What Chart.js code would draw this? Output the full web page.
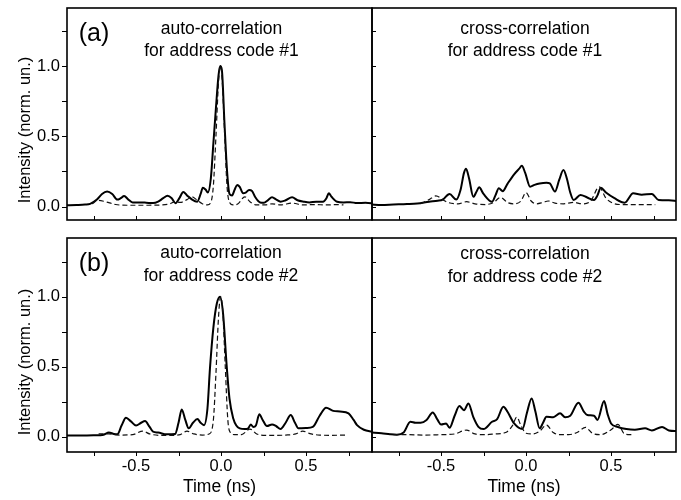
<!DOCTYPE html>
<html><head><meta charset="utf-8">
<script src="https://cdn.jsdelivr.net/npm/chart.js@4"></script>
<style>
html,body{margin:0;padding:0;background:#fff}
#wrap{position:relative;width:681px;height:500px;overflow:hidden}
canvas{position:absolute;left:0;top:0}
</style>
</head><body>
<div id="wrap">
<canvas id="cTL" width="681" height="500"></canvas>
<canvas id="cTR" width="681" height="500"></canvas>
<canvas id="cBL" width="681" height="500"></canvas>
<canvas id="cBR" width="681" height="500"></canvas>
</div>
<script>
// ---------- data (time in ns, intensity normalized) ----------
// (a) auto-correlation, measured (solid)
const autoA_t = [-0.91,-0.85,-0.80,-0.77,-0.73,-0.70,-0.67,-0.64,-0.61,-0.59,-0.57,-0.545,-0.52,-0.48,-0.44,-0.40,-0.37,-0.34,-0.315,-0.29,-0.268,-0.245,-0.222,-0.20,-0.17,-0.14,-0.12,-0.107,-0.09,-0.078,-0.06,-0.045,-0.03,-0.015,-0.005,0.005,0.02,0.035,0.05,0.065,0.08,0.095,0.11,0.13,0.145,0.165,0.183,0.20,0.23,0.252,0.275,0.30,0.325,0.35,0.38,0.418,0.45,0.487,0.52,0.56,0.60,0.62,0.634,0.65,0.683,0.72,0.76,0.80,0.85,0.90];
const autoA_meas = [0.01,0.012,0.015,0.02,0.05,0.09,0.107,0.09,0.05,0.06,0.076,0.05,0.03,0.03,0.028,0.025,0.035,0.06,0.078,0.06,0.024,0.06,0.104,0.08,0.05,0.035,0.09,0.135,0.12,0.10,0.20,0.45,0.70,0.93,1.0,0.97,0.60,0.26,0.09,0.08,0.12,0.154,0.14,0.095,0.10,0.118,0.11,0.07,0.03,0.028,0.045,0.066,0.05,0.035,0.045,0.066,0.045,0.035,0.03,0.035,0.035,0.06,0.095,0.07,0.035,0.03,0.032,0.025,0.028,0.022];
// (a) auto-correlation, simulated (dashed)
const autoA_simT = [-0.76,-0.72,-0.68,-0.62,-0.55,-0.45,-0.35,-0.30,-0.27,-0.24,-0.20,-0.17,-0.14,-0.11,-0.08,-0.06,-0.045,-0.03,-0.015,-0.005,0.005,0.02,0.035,0.05,0.07,0.10,0.14,0.17,0.21,0.26,0.30,0.35,0.42,0.48,0.55,0.62,0.68,0.72];
const autoA_sim = [0.02,0.045,0.035,0.015,0.01,0.01,0.012,0.02,0.035,0.03,0.05,0.07,0.045,0.02,0.012,0.03,0.15,0.5,0.88,1.0,0.93,0.55,0.15,0.03,0.012,0.02,0.07,0.035,0.012,0.012,0.02,0.012,0.025,0.012,0.015,0.012,0.015,0.012];
// (a) cross-correlation, measured
const crossA_t = [-0.91,-0.85,-0.78,-0.70,-0.64,-0.57,-0.52,-0.49,-0.45,-0.41,-0.385,-0.365,-0.353,-0.335,-0.31,-0.29,-0.276,-0.25,-0.20,-0.18,-0.16,-0.137,-0.11,-0.07,-0.04,-0.025,-0.005,0.024,0.05,0.08,0.12,0.14,0.17,0.195,0.22,0.24,0.26,0.28,0.32,0.36,0.40,0.42,0.44,0.47,0.52,0.58,0.63,0.68,0.74,0.78,0.84,0.89];
const crossA_meas = [0.015,0.012,0.015,0.018,0.022,0.035,0.042,0.05,0.09,0.05,0.12,0.24,0.27,0.20,0.07,0.11,0.137,0.09,0.035,0.08,0.13,0.11,0.16,0.23,0.27,0.29,0.24,0.142,0.155,0.165,0.17,0.165,0.107,0.19,0.26,0.20,0.10,0.047,0.083,0.065,0.047,0.08,0.135,0.10,0.06,0.028,0.095,0.085,0.09,0.047,0.045,0.04];
// (a) cross-correlation, simulated
const crossA_simT = [-0.62,-0.57,-0.53,-0.49,-0.46,-0.40,-0.35,-0.30,-0.24,-0.19,-0.15,-0.11,-0.07,-0.03,0.0,0.03,0.06,0.10,0.13,0.17,0.22,0.28,0.33,0.38,0.43,0.47,0.51,0.56,0.62,0.70,0.76];
const crossA_sim = [0.02,0.05,0.076,0.05,0.03,0.02,0.035,0.02,0.015,0.03,0.066,0.03,0.02,0.04,0.10,0.04,0.02,0.03,0.04,0.025,0.02,0.03,0.02,0.04,0.14,0.06,0.025,0.015,0.015,0.015,0.015];
// (b) auto-correlation, measured
const autoB_t = [-0.91,-0.82,-0.75,-0.69,-0.66,-0.63,-0.61,-0.585,-0.559,-0.53,-0.50,-0.47,-0.447,-0.42,-0.40,-0.37,-0.32,-0.27,-0.25,-0.231,-0.21,-0.19,-0.165,-0.139,-0.12,-0.10,-0.08,-0.065,-0.045,-0.025,-0.006,0.012,0.033,0.05,0.072,0.09,0.11,0.14,0.16,0.175,0.19,0.205,0.225,0.245,0.27,0.30,0.325,0.35,0.38,0.41,0.435,0.455,0.50,0.54,0.58,0.618,0.66,0.70,0.75,0.78,0.80,0.84,0.89];
const autoB_meas = [0.008,0.008,0.01,0.015,0.03,0.02,0.017,0.08,0.136,0.11,0.08,0.10,0.112,0.07,0.036,0.03,0.017,0.02,0.10,0.195,0.12,0.06,0.10,0.126,0.10,0.083,0.20,0.49,0.78,0.95,1.0,0.88,0.51,0.27,0.13,0.08,0.06,0.055,0.06,0.088,0.07,0.08,0.16,0.12,0.076,0.088,0.075,0.055,0.10,0.155,0.10,0.06,0.062,0.07,0.15,0.207,0.185,0.18,0.167,0.12,0.083,0.05,0.035];
// (b) auto-correlation, simulated
const autoB_simT = [-0.72,-0.66,-0.60,-0.52,-0.46,-0.42,-0.36,-0.30,-0.24,-0.20,-0.16,-0.11,-0.07,-0.045,-0.03,-0.015,-0.003,0.01,0.025,0.04,0.055,0.08,0.12,0.17,0.21,0.26,0.32,0.38,0.44,0.48,0.53,0.58,0.65,0.73];
const autoB_sim = [0.02,0.02,0.012,0.015,0.04,0.02,0.01,0.01,0.015,0.04,0.02,0.012,0.02,0.12,0.45,0.85,1.0,0.90,0.50,0.12,0.03,0.015,0.015,0.055,0.02,0.01,0.01,0.012,0.02,0.04,0.02,0.012,0.01,0.012];
// (b) cross-correlation, measured
const crossB_t = [-0.91,-0.85,-0.80,-0.76,-0.72,-0.68,-0.65,-0.62,-0.585,-0.549,-0.52,-0.50,-0.47,-0.45,-0.42,-0.392,-0.365,-0.339,-0.31,-0.28,-0.25,-0.20,-0.17,-0.133,-0.11,-0.07,-0.021,0.005,0.033,0.055,0.08,0.10,0.12,0.16,0.20,0.23,0.26,0.308,0.34,0.36,0.40,0.42,0.459,0.48,0.50,0.54,0.59,0.64,0.70,0.74,0.80,0.84,0.89];
const crossB_meas = [0.03,0.025,0.018,0.015,0.03,0.107,0.10,0.10,0.12,0.174,0.12,0.088,0.095,0.064,0.15,0.219,0.19,0.238,0.14,0.071,0.055,0.107,0.126,0.214,0.18,0.095,0.055,0.17,0.274,0.18,0.06,0.10,0.143,0.14,0.167,0.14,0.15,0.243,0.18,0.155,0.15,0.12,0.255,0.16,0.095,0.07,0.055,0.05,0.06,0.045,0.07,0.045,0.04];
// (b) cross-correlation, simulated
const crossB_simT = [-0.78,-0.70,-0.60,-0.50,-0.42,-0.35,-0.30,-0.24,-0.18,-0.12,-0.08,-0.055,-0.03,0.0,0.04,0.08,0.12,0.16,0.20,0.25,0.30,0.35,0.39,0.44,0.50,0.54,0.58,0.62];
const crossB_sim = [0.015,0.015,0.012,0.015,0.02,0.048,0.02,0.015,0.02,0.03,0.08,0.14,0.08,0.025,0.02,0.04,0.083,0.03,0.015,0.015,0.03,0.067,0.025,0.015,0.05,0.088,0.02,0.015];

// tick labels / texts
const xMajorLabels = [-0.5, 0.0, 0.5];
const yMajorLabels = [0.0, 0.5, 1.0];
const xTitle = 'Time (ns)';
const yTitle = 'Intensity (norm. un.)';
const panelTags = ['(a)', '(b)'];
const panelTitles = [
  ['auto-correlation', 'for address code #1'],
  ['cross-correlation', 'for address code #1'],
  ['auto-correlation', 'for address code #2'],
  ['cross-correlation', 'for address code #2']
];

// ---------- drawing ----------
const FONT = "'Liberation Sans', Arimo, Arial, sans-serif";
Chart.defaults.font.family = FONT;
Chart.defaults.color = '#000';

function fmtMajor(list) {
  return v => list.some(m => Math.abs(m - v) < 1e-6) ? v.toFixed(1) : '';
}

function makeDecor(cfg) {
  return {
    id: 'decor',
    afterDraw(chart) {
      const {ctx, chartArea: a, scales: {x, y}} = chart;
      ctx.save();
      ctx.strokeStyle = '#000';
      ctx.lineWidth = 1;
      x.ticks.forEach(t => {
        const px = Math.round(x.getPixelForValue(t.value)) + 0.5;
        ctx.beginPath();
        ctx.moveTo(px, a.bottom);
        ctx.lineTo(px, a.bottom + (cfg.xIn ? -4 : 4));
        ctx.stroke();
      });
      y.ticks.forEach(t => {
        const py = Math.round(y.getPixelForValue(t.value)) + 0.5;
        ctx.beginPath();
        ctx.moveTo(a.left, py);
        ctx.lineTo(a.left + (cfg.yIn ? 4 : -5), py);
        ctx.stroke();
      });
      ctx.lineWidth = 1.6;
      ctx.strokeRect(a.left, a.top, a.right - a.left, a.bottom - a.top);
      ctx.fillStyle = '#000';
      ctx.textAlign = 'center';
      ctx.textBaseline = 'middle';
      cfg.texts.forEach(tx => {
        ctx.font = tx.size + 'px ' + FONT;
        ctx.fillText(tx.text, tx.x, tx.y);
      });
      if (cfg.yTitlePos) {
        ctx.save();
        ctx.translate(cfg.yTitlePos[0], cfg.yTitlePos[1]);
        ctx.rotate(-Math.PI / 2);
        ctx.font = '16.5px ' + FONT;
        ctx.fillText(yTitle, 0, 0);
        ctx.restore();
      }
      ctx.restore();
    }
  };
}

function zeroPad(s) { s.paddingLeft = 0; s.paddingRight = 0; s.paddingTop = 0; s.paddingBottom = 0; }

function makeChart(id, cfg) {
  const pts = (ts, vs) => ts.map((t, i) => ({x: t, y: vs[i]}));
  return new Chart(document.getElementById(id), {
    type: 'line',
    data: {
      datasets: [
        {data: pts(cfg.simT, cfg.simV), borderColor: '#111', borderWidth: 1.2, borderDash: [5, 3],
         pointRadius: 0, cubicInterpolationMode: 'monotone', fill: false},
        {data: pts(cfg.t, cfg.v), borderColor: '#000', borderWidth: 2,
         pointRadius: 0, cubicInterpolationMode: 'monotone', fill: false}
      ]
    },
    options: {
      responsive: false, animation: false, devicePixelRatio: 1,
      layout: {padding: cfg.pad},
      plugins: {legend: {display: false}, tooltip: {enabled: false}},
      scales: {
        x: {
          type: 'linear', min: cfg.xMin, max: cfg.xMax,
          grid: {display: false, drawTicks: false}, border: {display: false},
          ticks: {display: cfg.xLabels, stepSize: 0.25, includeBounds: false, autoSkip: false,
                  maxRotation: 0, padding: 5, color: '#000', font: {size: 16.5},
                  callback: fmtMajor(xMajorLabels)},
          title: {display: cfg.xLabels, text: xTitle, color: '#000', font: {size: 17.5}, padding: {top: 0, bottom: 2}},
          afterFit: s => { s.height = cfg.xH; zeroPad(s); }
        },
        y: {
          type: 'linear', min: cfg.yMin, max: cfg.yMax,
          grid: {display: false, drawTicks: false}, border: {display: false},
          ticks: {display: cfg.yLabels, stepSize: 0.25, includeBounds: false, autoSkip: false,
                  padding: 7, color: '#000', font: {size: 16.5},
                  callback: fmtMajor(yMajorLabels)},
          afterFit: s => { s.width = cfg.yW; zeroPad(s); }
        }
      }
    },
    plugins: [makeDecor(cfg)]
  });
}

// top-left (a) auto
makeChart('cTL', {
  t: autoA_t, v: autoA_meas, simT: autoA_simT, simV: autoA_sim,
  pad: {left: 0, top: 8, right: 309, bottom: 0}, xH: 280, yW: 67,
  xMin: -0.906, xMax: 0.888, yMin: -0.095, yMax: 1.412,
  xLabels: false, yLabels: true, xIn: true, yIn: false,
  yTitlePos: [25, 130],
  texts: [
    {text: panelTags[0], x: 94, y: 34, size: 25},
    {text: panelTitles[0][0], x: 221.5, y: 29, size: 17.5},
    {text: panelTitles[0][1], x: 221.5, y: 51, size: 17.5}
  ]
});
// top-right (a) cross
makeChart('cTR', {
  t: crossA_t, v: crossA_meas, simT: crossA_simT, simV: crossA_sim,
  pad: {left: 372, top: 8, right: 5, bottom: 0}, xH: 280, yW: 0,
  xMin: -0.906, xMax: 0.882, yMin: -0.095, yMax: 1.412,
  xLabels: false, yLabels: false, xIn: true, yIn: true,
  texts: [
    {text: panelTitles[1][0], x: 525, y: 29, size: 17.5},
    {text: panelTitles[1][1], x: 525, y: 51, size: 17.5}
  ]
});
// bottom-left (b) auto
makeChart('cBL', {
  t: autoB_t, v: autoB_meas, simT: autoB_simT, simV: autoB_sim,
  pad: {left: 0, top: 238, right: 309, bottom: 0}, xH: 48, yW: 67,
  xMin: -0.906, xMax: 0.888, yMin: -0.109, yMax: 1.42,
  xLabels: true, yLabels: true, xIn: false, yIn: false,
  yTitlePos: [25, 362],
  texts: [
    {text: panelTags[1], x: 94, y: 264, size: 25},
    {text: panelTitles[2][0], x: 221, y: 253, size: 17.5},
    {text: panelTitles[2][1], x: 221, y: 276, size: 17.5}
  ]
});
// bottom-right (b) cross
makeChart('cBR', {
  t: crossB_t, v: crossB_meas, simT: crossB_simT, simV: crossB_sim,
  pad: {left: 372, top: 238, right: 5, bottom: 0}, xH: 48, yW: 0,
  xMin: -0.906, xMax: 0.882, yMin: -0.109, yMax: 1.42,
  xLabels: true, yLabels: false, xIn: false, yIn: true,
  texts: [
    {text: panelTitles[3][0], x: 525, y: 254, size: 17.5},
    {text: panelTitles[3][1], x: 525, y: 277, size: 17.5}
  ]
});
</script>
</body></html>
